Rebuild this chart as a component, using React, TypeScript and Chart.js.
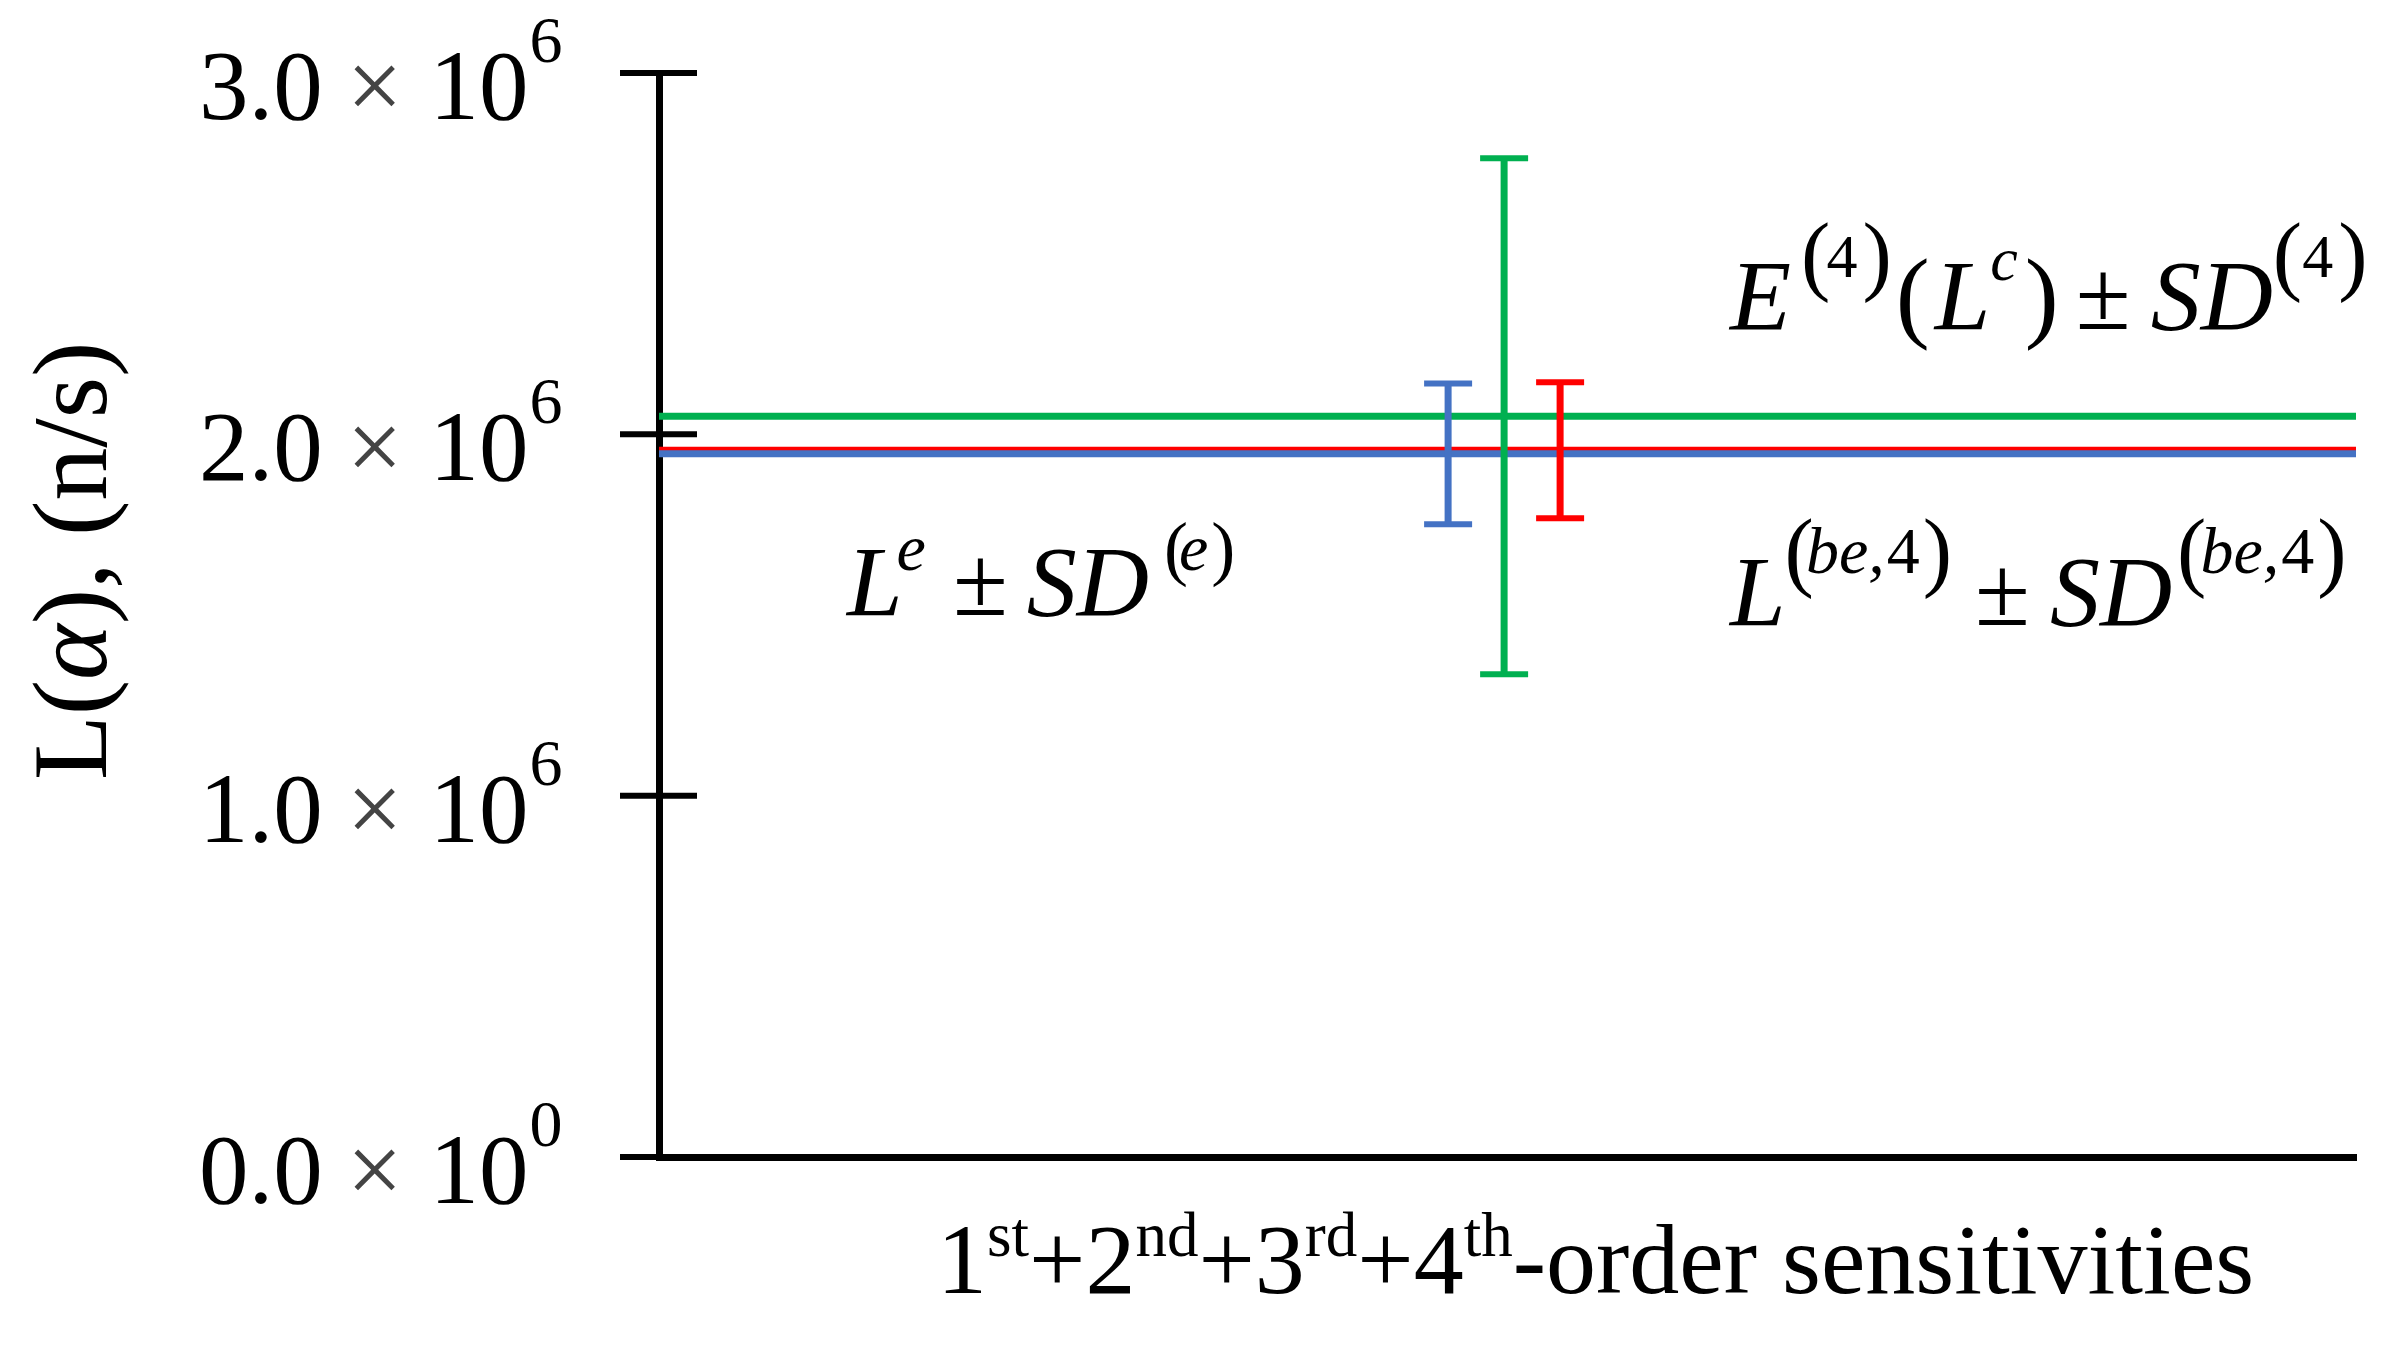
import React, { useEffect, useRef } from 'react';
import { Chart, registerables } from 'chart.js';

Chart.register(...registerables);

// ---------------- data ----------------
const seriesNames = ['Le ± SD(e)', 'L(be,4) ± SD(be,4)', 'E(4)(Lc) ± SD(4)'];
const seriesMeans = [1.946e6, 1.956e6, 2.05e6];
const seriesSDs = [0.195e6, 0.188e6, 0.714e6];
const seriesBarX = [46.5, 53.1, 49.8];
const seriesColors = ['#4472C4', '#FF0000', '#00B050'];
const xExtent = [0, 100];
const yTickValues = [0, 1e6, 2e6, 3e6];
const yTickMantissas = ['0.0', '1.0', '2.0', '3.0'];
const yTickExponents = ['0', '6', '6', '6'];
const yTitleParts = ['L(', 'α', '), (n/s)'];
const xTitleParts = [
  ['1', 'st'],
  ['+2', 'nd'],
  ['+3', 'rd'],
  ['+4', 'th'],
  ['-order sensitivities', ''],
];

// ---------------- layout / style ----------------
const FONT = '"Liberation Serif", "Times New Roman", serif';
type Run = { t: string; size: number; it?: boolean; up?: number; gap?: number; color?: string };

function drawRuns(ctx: CanvasRenderingContext2D, x: number, y: number, runs: Run[]) {
  ctx.textAlign = 'left';
  ctx.textBaseline = 'alphabetic';
  for (const r of runs) {
    x += r.gap || 0;
    ctx.font = `${r.it ? 'italic ' : ''}${r.size}px ${FONT}`;
    ctx.fillStyle = r.color || '#000';
    ctx.fillText(r.t, x, y - (r.up || 0));
    x += ctx.measureText(r.t).width;
  }
  return x;
}

const supParen = (t: string, gap: number): Run => ({ t, size: 88, up: 45, gap });
const supTxt = (t: string, it: boolean, gap = 0): Run => ({ t, size: 66, up: 52, it, gap });

const annE: Run[] = [
  { t: 'E', size: 100, it: true },
  supParen('(', 10),
  { t: '4', size: 62, up: 52, gap: -4 },
  supParen(')', 5),
  { t: '(', size: 102, gap: 4 },
  { t: 'L', size: 100, it: true, gap: 5 },
  { t: 'c', size: 62, it: true, up: 49 },
  { t: ')', size: 102, gap: 7 },
  { t: '±', size: 100, gap: 17 },
  { t: 'SD', size: 100, it: true, gap: 20 },
  supParen('(', 0),
  { t: '4', size: 62, up: 52 },
  supParen(')', 5),
];

const annBE: Run[] = [
  { t: 'L', size: 100, it: true },
  supParen('(', -1),
  supTxt('b', true, -8),
  supTxt('e', true),
  supTxt(',', true),
  supTxt('4', false, 2),
  supParen(')', 3),
  { t: '±', size: 100, gap: 23 },
  { t: 'SD', size: 100, it: true, gap: 20 },
  supParen('(', 5),
  supTxt('b', true, -6),
  supTxt('e', true),
  supTxt(',', true),
  supTxt('4', false, 2),
  supParen(')', 3),
];

const annLe: Run[] = [
  { t: 'L', size: 100, it: true },
  { t: 'e', size: 66, it: true, up: 45, gap: -6 },
  { t: '±', size: 100, gap: 27 },
  { t: 'SD', size: 100, it: true, gap: 19 },
  { t: '(', size: 72, up: 43, gap: 15 },
  { t: 'e', size: 66, it: true, up: 45, gap: -9 },
  { t: ')', size: 72, up: 43, gap: 3 },
];

const decorPlugin = {
  id: 'decor',
  afterDraw(chart: any) {
    const ctx: CanvasRenderingContext2D = chart.ctx;
    const ys = chart.scales.y;
    const area = chart.chartArea;
    ctx.save();
    // cross tick marks on the y axis
    ctx.strokeStyle = '#000';
    ctx.lineWidth = 6;
    yTickValues.forEach((v) => {
      const py = ys.getPixelForValue(v);
      ctx.beginPath();
      ctx.moveTo(area.left - 39, py);
      ctx.lineTo(area.left + 38, py);
      ctx.stroke();
    });
    // y tick labels  m.m × 10^e
    yTickValues.forEach((v, i) => {
      const py = ys.getPixelForValue(v) + 46;
      drawRuns(ctx, 199, py, [
        { t: yTickMantissas[i], size: 99 },
        { t: '×', size: 99, gap: 24, color: '#444' },
        { t: '10', size: 99, gap: 27 },
        { t: yTickExponents[i], size: 66, up: 57, gap: 1 },
      ]);
    });
    // y title (rotated)
    ctx.save();
    ctx.translate(106, 780);
    ctx.rotate(-Math.PI / 2);
    drawRuns(ctx, 0, 0, [
      { t: yTitleParts[0], size: 106 },
      { t: yTitleParts[1], size: 106, it: true },
      { t: yTitleParts[2], size: 106 },
    ]);
    ctx.restore();
    // x title
    const xr: Run[] = [];
    xTitleParts.forEach(([base, sup]) => {
      xr.push({ t: base, size: 100 });
      if (sup) xr.push({ t: sup, size: 63, up: 37 });
    });
    drawRuns(ctx, 937, 1293, xr);
    // annotations
    drawRuns(ctx, 1730, 329, annE);
    drawRuns(ctx, 1730, 625, annBE);
    drawRuns(ctx, 847, 615, annLe);
    ctx.restore();
  },
};

export default function App() {
  const ref = useRef<HTMLCanvasElement | null>(null);
  useEffect(() => {
    if (!ref.current) return;
    const datasets: any[] = [];
    seriesNames.forEach((name, i) => {
      const m = seriesMeans[i];
      const sd = seriesSDs[i];
      datasets.push({
        label: name + ' bar',
        data: [
          { x: seriesBarX[i], y: m - sd },
          { x: seriesBarX[i], y: m + sd },
        ],
        showLine: true,
        borderColor: seriesColors[i],
        borderWidth: 7,
        pointStyle: 'line',
        pointRadius: 24,
        pointHoverRadius: 24,
        pointBorderWidth: 6,
        pointBorderColor: seriesColors[i],
        order: i,
      });
      datasets.push({
        label: name,
        data: [
          { x: xExtent[0], y: m },
          { x: xExtent[1], y: m },
        ],
        showLine: true,
        borderColor: seriesColors[i],
        borderWidth: 7,
        pointRadius: 0,
        order: 3 + i,
      });
    });
    const chart = new Chart(ref.current, {
      type: 'scatter',
      data: { datasets },
      options: {
        animation: false,
        responsive: false,
        maintainAspectRatio: false,
        devicePixelRatio: 1,
        events: [],
        layout: { padding: { left: 659, right: 46, top: 73, bottom: 194 } },
        plugins: { legend: { display: false }, tooltip: { enabled: false } },
        scales: {
          x: {
            type: 'linear',
            min: xExtent[0],
            max: xExtent[1],
            ticks: { display: false },
            grid: { display: false, drawTicks: false },
            border: { display: true, color: '#000', width: 7 },
          },
          y: {
            type: 'linear',
            min: 0,
            max: 3e6,
            ticks: { display: false, stepSize: 1e6 },
            grid: { display: false, drawTicks: false },
            border: { display: true, color: '#000', width: 7 },
          },
        },
      },
      plugins: [decorPlugin],
    } as any);
    return () => chart.destroy();
  }, []);
  return (
    <div style={{ position: 'absolute', left: 0, top: 0, width: 2402, height: 1351, background: '#fff' }}>
      <canvas ref={ref} width={2402} height={1351} style={{ display: 'block' }} />
    </div>
  );
}
